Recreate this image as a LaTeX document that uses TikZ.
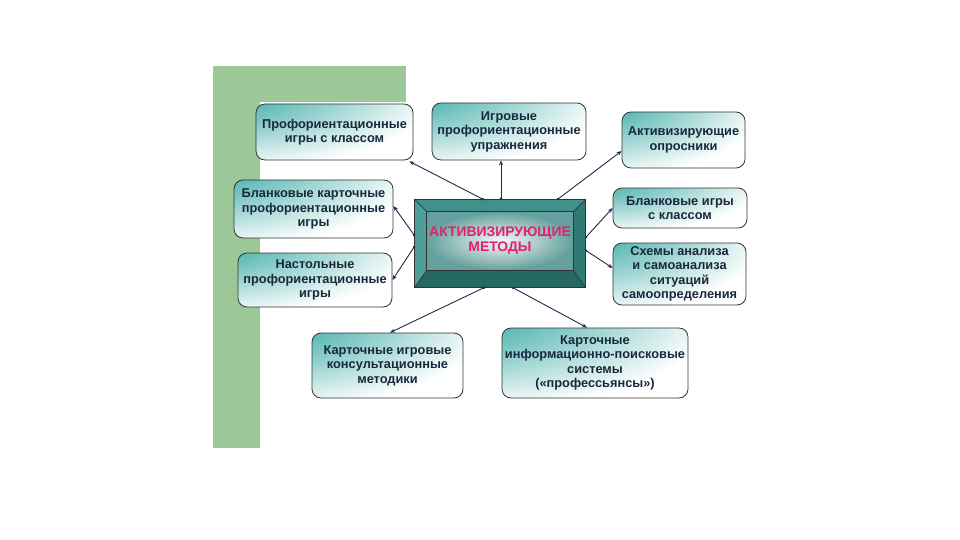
\documentclass[tikz,border=0pt]{standalone}
\usepackage{fontspec}
\setmainfont{Liberation Sans}
\usetikzlibrary{calc,arrows.meta}
\definecolor{greenbar}{RGB}{155,200,150}
\definecolor{tealA}{RGB}{30,158,152}
\definecolor{txt}{RGB}{25,40,60}
\definecolor{linec}{RGB}{30,45,75}
\definecolor{magt}{RGB}{230,30,110}
\definecolor{bevT}{RGB}{64,145,140}
\definecolor{bevL}{RGB}{80,158,153}
\definecolor{bevR}{RGB}{48,122,118}
\definecolor{bevB}{RGB}{38,104,100}
\definecolor{innerE}{RGB}{100,160,157}
\pgfdeclareradialshading{boxshade}{\pgfpoint{-50bp}{50bp}}{color(0bp)=(tealA);color(12bp)=(tealA);color(66bp)=(white);color(200bp)=(white)}
\begin{document}
\begin{tikzpicture}[x=1pt,y=-1pt,
  mbox/.style={draw=black!80, line width=0.8pt, rounded corners=9pt, shading=boxshade,
    align=center, text=txt, font=\bfseries\fontsize{12.8}{14.5}\selectfont, inner sep=1pt},
  conn/.style={draw=linec, line width=0.9pt, {Circle[length=2.5pt]}-{Stealth[length=5pt,width=4pt]}},
  bevline/.style={draw=black!80, line width=0.7pt}]
\useasboundingbox (0,0) rectangle (960,540);
\fill[white] (0,0) rectangle (960,540);
\fill[greenbar] (213,66) rectangle (406,448);
\fill[white] (260,102) rectangle (760,448);

\node[mbox, minimum width=157pt, minimum height=56pt] (b1) at (334.5,132) {Профориентационные\\игры с классом};
\node[mbox, minimum width=154pt, minimum height=57pt] (b2) at (509,131.5) {Игровые\\профориентационные\\упражнения};
\node[mbox, minimum width=123pt, minimum height=56pt] (b3) at (683.5,140) {Активизирующие\\опросники};
\node[mbox, minimum width=134pt, minimum height=40pt] (b4) at (680,208) {Бланковые игры\\с классом};
\node[mbox, minimum width=133pt, minimum height=62pt] (b5) at (679.5,274) {Схемы анализа\\и самоанализа\\ситуаций\\самоопределения};
\node[mbox, minimum width=159pt, minimum height=58pt] (b6) at (313.5,209) {Бланковые карточные\\профориентационные\\игры};
\node[mbox, minimum width=154pt, minimum height=54pt] (b7) at (315,280) {Настольные\\профориентационные\\игры};
\node[mbox, minimum width=151pt, minimum height=65pt] (b9) at (387.5,365.5) {Карточные игровые\\консультационные\\методики};
\node[mbox, minimum width=186pt, minimum height=70pt] (b10) at (595,363) {Карточные\\информационно-поисковые\\системы\\(«профессьянсы»)};

% central bevelled box
\node[minimum width=170pt, minimum height=87pt, inner sep=0pt] (c) at (500,243.5) {};
\coordinate (cnw) at ($(c.north west)+(12,12)$);
\coordinate (cne) at ($(c.north east)+(-12,12)$);
\coordinate (cse) at ($(c.south east)+(-12,-17)$);
\coordinate (csw) at ($(c.south west)+(12,-17)$);
\fill[bevT] (c.north west) -- (c.north east) -- (cne) -- (cnw) -- cycle;
\fill[bevL] (c.north west) -- (cnw) -- (csw) -- (c.south west) -- cycle;
\fill[bevR] (c.north east) -- (c.south east) -- (cse) -- (cne) -- cycle;
\fill[bevB] (c.south west) -- (csw) -- (cse) -- (c.south east) -- cycle;
\shade[inner color=white!94!innerE, outer color=innerE] (cnw) rectangle (cse);
\draw[bevline] (c.north west) rectangle (c.south east);
\draw[bevline] (cnw) rectangle (cse);
\draw[bevline] (c.north west) -- (cnw) (c.north east) -- (cne) (c.south east) -- (cse) (c.south west) -- (csw);
\node[text=magt, font=\bfseries\fontsize{13.9}{15}\selectfont, align=center] (ct) at (500,240.5) {АКТИВИЗИРУЮЩИЕ\\МЕТОДЫ};

% connectors
\draw[conn] ($(c.north)+(-16,0)$) -- ($(b1.south east)+(-4,1)$);
\draw[conn] ($(c.north)+(1,0)$) -- ($(b2.south)+(-8,0)$);
\draw[conn] ($(c.north)+(57,0)$) -- ($(b3.west)+(0,11)$);
\draw[conn] ($(c.west)+(0,-7.5)$) -- ($(b6.east)+(0,-3)$);
\draw[conn] ($(c.west)+(0,2.5)$) -- (b7.east);
\draw[conn] ($(c.east)+(0,-5.5)$) -- (b4.west);
\draw[conn] ($(c.east)+(0,6.5)$) -- ($(b5.west)+(0,-6)$);
\draw[conn] ($(c.south)+(-15,0)$) -- ($(b9.north)+(2.5,0)$);
\draw[conn] ($(c.south)+(12,0)$) -- ($(b10.north)+(-8,0)$);
\end{tikzpicture}
\end{document}
